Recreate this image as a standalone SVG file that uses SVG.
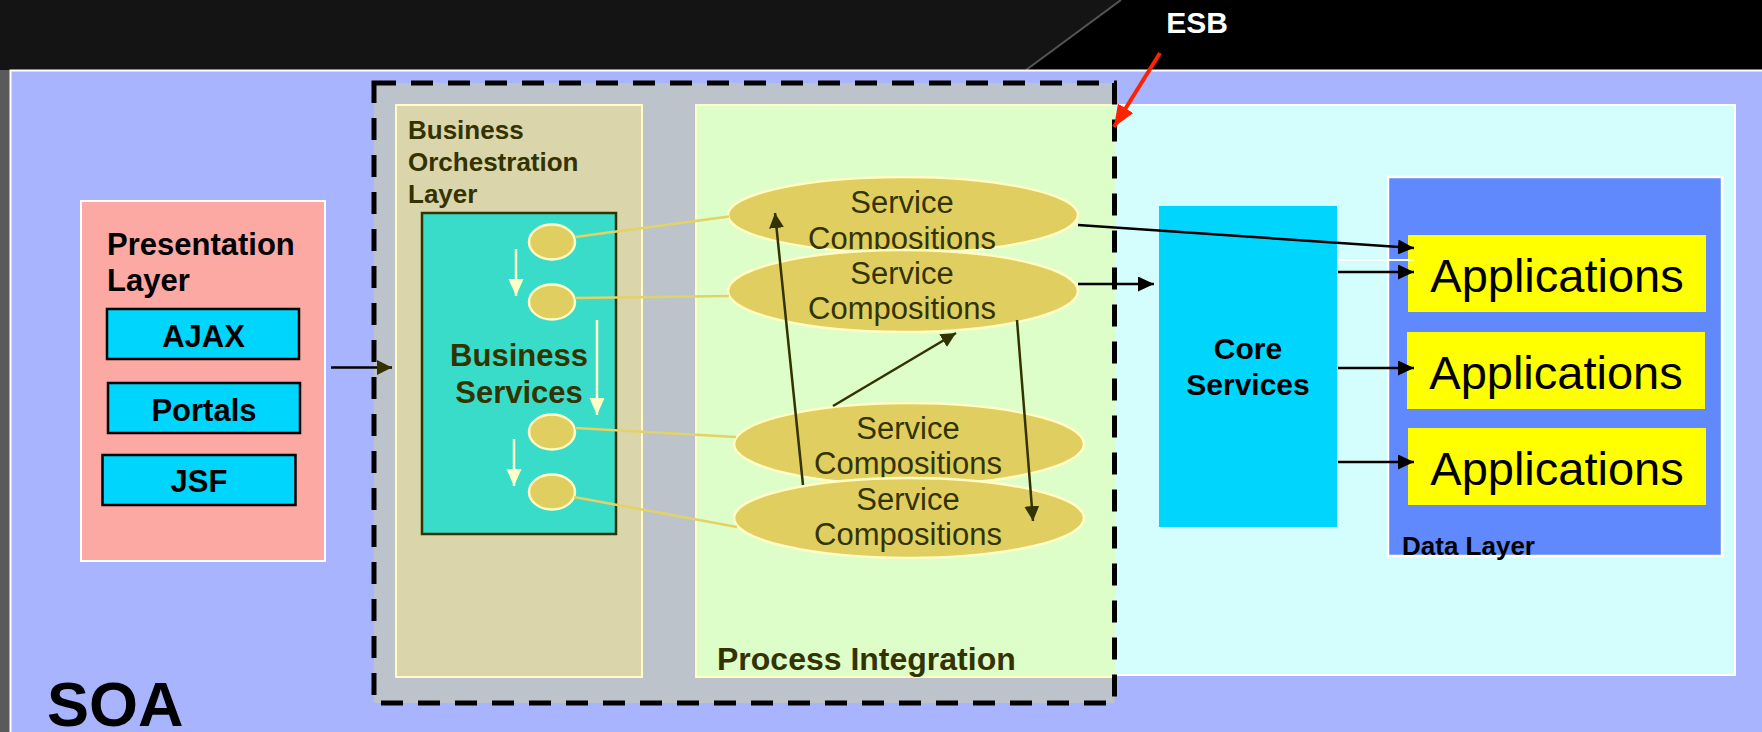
<svg xmlns="http://www.w3.org/2000/svg" width="1762" height="732" viewBox="0 0 1762 732">
<defs>
<style>
.t{font-family:"Liberation Sans",Arial,sans-serif}
.b{font-weight:bold}
.ol{fill:#333300}
.bx{fill:#00d6fd;stroke:#000;stroke-width:2.5}
.app{fill:#ffff00}
.big{fill:#e0cf60;stroke:#fffcc4;stroke-width:2.5}
.sm{fill:#e0cf60;stroke:#fffcc4;stroke-width:2.5}
.gl{stroke:#e3d266;stroke-width:2.5;fill:none}
.oa{stroke:#333300;stroke-width:2.5;fill:none;marker-end:url(#mo)}
.ba{stroke:#000;stroke-width:2.5;fill:none;marker-end:url(#mb)}
.wa{stroke:#ffffc8;stroke-width:2.5;fill:none;marker-end:url(#mw)}
</style>
<marker id="mo" markerUnits="userSpaceOnUse" markerWidth="16" markerHeight="16" refX="15" refY="7.5" orient="auto"><path d="M0,0 L15,7.5 L0,15 z" fill="#333300"/></marker>
<marker id="mb" markerUnits="userSpaceOnUse" markerWidth="17" markerHeight="16" refX="16" refY="7.5" orient="auto"><path d="M0,0 L16,7.5 L0,15 z" fill="#000"/></marker>
<marker id="mw" markerUnits="userSpaceOnUse" markerWidth="18" markerHeight="16" refX="17" refY="7.5" orient="auto"><path d="M0,0 L17,7.5 L0,15 z" fill="#ffffc8"/></marker>
<marker id="mr" markerUnits="userSpaceOnUse" markerWidth="23" markerHeight="19" refX="22" refY="9" orient="auto"><path d="M0,0 L22,9 L0,18 z" fill="#ff2200"/></marker>
</defs>

<g id="background">
<rect x="0" y="0" width="1762" height="732" fill="#141414"/>
<polygon points="1121,0 1762,0 1762,70 1026,70" fill="#000"/>
<line x1="1121" y1="0" x2="1026" y2="70" stroke="#555" stroke-width="2"/>
<rect x="0" y="70" width="10" height="662" fill="#5a5a5a"/>
</g>

<g id="soa">
<rect x="10.5" y="70.5" width="1760" height="670" fill="#a8b4fd" stroke="#fff" stroke-width="2"/>
<text class="t b" x="47" y="726" font-size="63" fill="#000">SOA</text>
</g>

<g id="esb-area">
<rect x="374" y="83" width="740.5" height="620" fill="#bcc3ca"/>
</g>

<g id="right-panel">
<rect x="1100" y="105" width="635" height="570" fill="#d4fefe" stroke="#fff" stroke-width="2"/>
</g>

<g id="business-orchestration-layer">
<rect x="396" y="105" width="246" height="572" fill="#dad5ab" stroke="#fffcc8" stroke-width="2"/>
<text class="t b ol" font-size="26"><tspan x="408" y="139">Business</tspan><tspan x="408" y="171">Orchestration</tspan><tspan x="408" y="203">Layer</tspan></text>
</g>

<g id="process-integration">
<rect x="696" y="105" width="419" height="572" fill="#ddfdc9"/>
<path d="M1115,105 H696 V677 H1115" fill="none" stroke="#fffcc8" stroke-width="2"/>
<text class="t b ol" x="717" y="670" font-size="32">Process Integration</text>
</g>

<g id="esb">
<rect x="374" y="83" width="740.5" height="620" fill="none" stroke="#000" stroke-width="5" stroke-dasharray="22 15"/>
<text class="t b" x="1197" y="33" font-size="30" fill="#fff" text-anchor="middle">ESB</text>
</g>

<g id="presentation-layer">
<rect x="81" y="201" width="244" height="360" fill="#fca9a3" stroke="#fff" stroke-width="2"/>
<text class="t b" font-size="31" fill="#000"><tspan x="107" y="255">Presentation</tspan><tspan x="107" y="291">Layer</tspan></text>
</g>
<g id="ajax">
<rect class="bx" x="107" y="309" width="192" height="50"/>
<text class="t b" x="203.5" y="347" font-size="31" text-anchor="middle">AJAX</text>
</g>
<g id="portals">
<rect class="bx" x="108" y="383" width="192" height="50"/>
<text class="t b" x="204" y="421" font-size="31" text-anchor="middle">Portals</text>
</g>
<g id="jsf">
<rect class="bx" x="102.5" y="455" width="193" height="50"/>
<text class="t b" x="199" y="492" font-size="31" text-anchor="middle">JSF</text>
</g>

<g id="business-services">
<rect x="422" y="213" width="194" height="321" fill="#39dcc8" stroke="#333300" stroke-width="2.5"/>
<text class="t b ol" font-size="31" text-anchor="middle"><tspan x="519" y="366">Business</tspan><tspan x="519" y="403">Services</tspan></text>
</g>
<g id="bs-1"><ellipse class="sm" cx="552" cy="242" rx="23" ry="17.5"/></g>
<g id="bs-2"><ellipse class="sm" cx="552" cy="302" rx="23" ry="17.5"/></g>
<g id="bs-3"><ellipse class="sm" cx="552" cy="432" rx="23" ry="17.5"/></g>
<g id="bs-4"><ellipse class="sm" cx="552" cy="492" rx="23" ry="17.5"/></g>

<g id="service-compositions-1">
<ellipse class="big" cx="903" cy="215" rx="175" ry="38"/>
<text class="t ol" font-size="31" text-anchor="middle"><tspan x="902" y="213">Service</tspan><tspan x="902" y="248.5">Compositions</tspan></text>
</g>
<g id="service-compositions-2">
<ellipse class="big" cx="903" cy="291" rx="175" ry="41"/>
<text class="t ol" font-size="31" text-anchor="middle"><tspan x="902" y="283.5">Service</tspan><tspan x="902" y="319">Compositions</tspan></text>
</g>
<g id="service-compositions-3">
<ellipse class="big" cx="909" cy="444" rx="175" ry="41"/>
<text class="t ol" font-size="31" text-anchor="middle"><tspan x="908" y="438.5">Service</tspan><tspan x="908" y="474">Compositions</tspan></text>
</g>
<g id="service-compositions-4">
<ellipse class="big" cx="909" cy="518" rx="175" ry="40"/>
<text class="t ol" font-size="31" text-anchor="middle"><tspan x="908" y="509.5">Service</tspan><tspan x="908" y="545">Compositions</tspan></text>
</g>

<g id="core-services">
<rect x="1159" y="206" width="178" height="321" fill="#00d6fd"/>
<text class="t b" font-size="30" fill="#000" text-anchor="middle"><tspan x="1248" y="359">Core</tspan><tspan x="1248" y="395">Services</tspan></text>
</g>

<g id="data-layer">
<rect x="1388" y="177" width="334" height="379" fill="#6089fd" stroke="#fff" stroke-width="2.5"/>
<text class="t b" x="1402" y="555" font-size="26" fill="#000">Data Layer</text>
</g>
<g id="applications-1">
<rect class="app" x="1408" y="235" width="298" height="77"/>
<text class="t" x="1557" y="292" font-size="47" fill="#000" text-anchor="middle">Applications</text>
</g>
<g id="applications-2">
<rect class="app" x="1407" y="332" width="298" height="77"/>
<text class="t" x="1556" y="389" font-size="47" fill="#000" text-anchor="middle">Applications</text>
</g>
<g id="applications-3">
<rect class="app" x="1408" y="428" width="298" height="77"/>
<text class="t" x="1557" y="485" font-size="47" fill="#000" text-anchor="middle">Applications</text>
</g>

<g id="connectors">
<line x1="331" y1="367.5" x2="392" y2="367.5" stroke="#000" stroke-width="2.5" marker-end="url(#mo)"/>
<line class="wa" x1="516" y1="249" x2="516" y2="296"/>
<line class="wa" x1="597" y1="320" x2="597" y2="415"/>
<line class="wa" x1="514" y1="439" x2="514" y2="486"/>
<line class="gl" x1="575" y1="237" x2="729" y2="216.5"/>
<line class="gl" x1="575" y1="298" x2="729" y2="296"/>
<line class="gl" x1="575" y1="428" x2="736" y2="437"/>
<line class="gl" x1="574" y1="497" x2="737" y2="527"/>
<line class="oa" x1="803" y1="485" x2="775" y2="213"/>
<line class="oa" x1="1017" y1="320" x2="1033" y2="521"/>
<line class="oa" x1="833" y1="406" x2="956" y2="333"/>
<line class="ba" x1="1078" y1="225" x2="1414" y2="248"/>
<line class="ba" x1="1078" y1="284" x2="1154" y2="284"/>
<line x1="1338" y1="260" x2="1414" y2="260" stroke="#fff" stroke-width="2"/>
<line class="ba" x1="1338" y1="272" x2="1414" y2="272"/>
<line class="ba" x1="1338" y1="368" x2="1414" y2="368"/>
<line class="ba" x1="1338" y1="462" x2="1414" y2="462"/>
<line x1="1160" y1="53" x2="1114" y2="127" stroke="#ff2200" stroke-width="4" marker-end="url(#mr)"/>
</g>
</svg>
